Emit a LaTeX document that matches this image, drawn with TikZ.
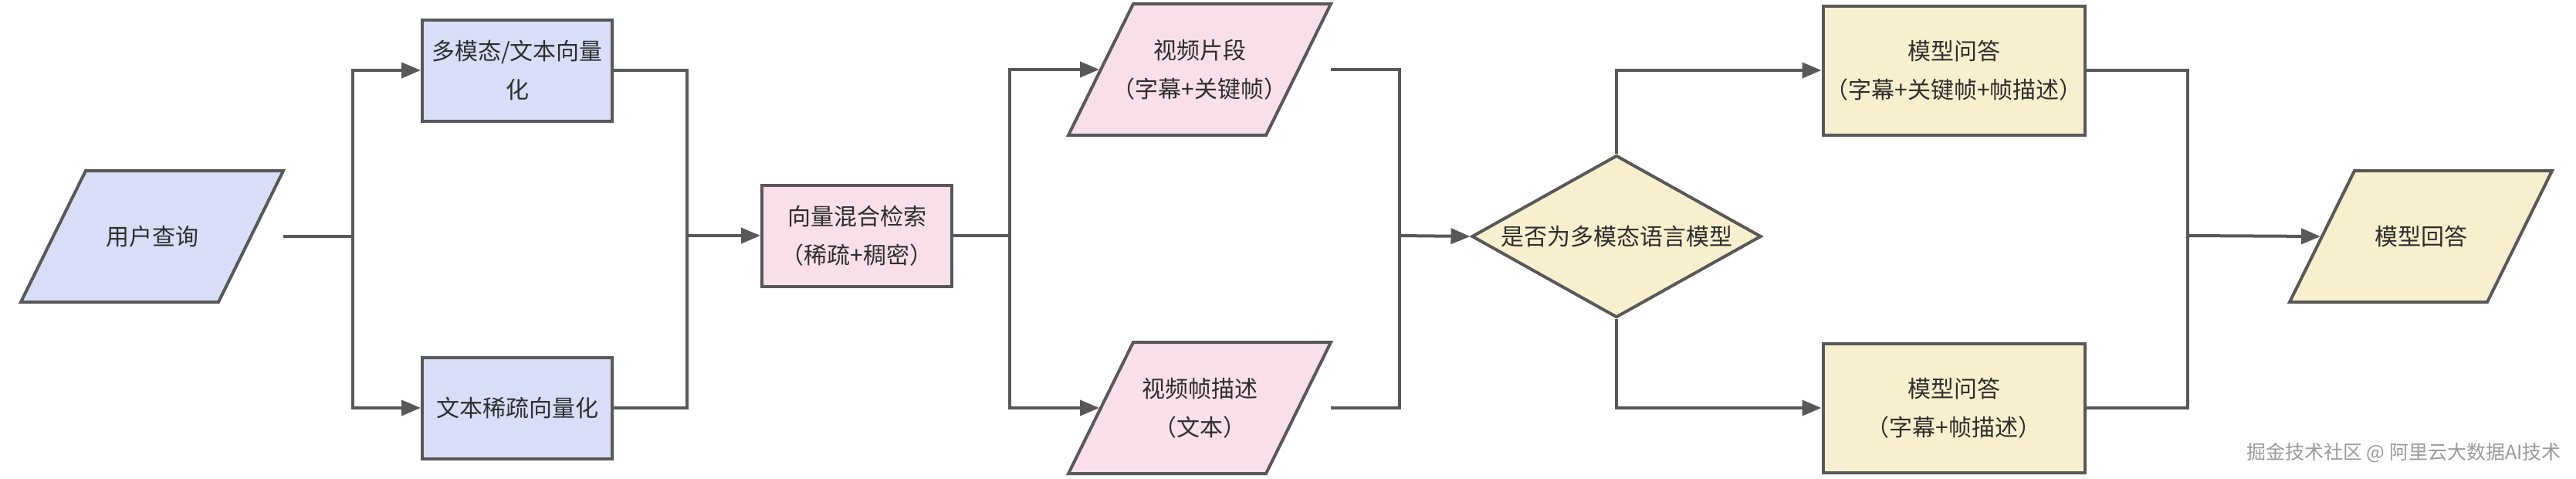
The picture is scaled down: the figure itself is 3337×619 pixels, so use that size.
\documentclass[tikz,border=0pt]{standalone}
\usepackage{fontspec}
\setmainfont{Noto Sans CJK SC}
\usetikzlibrary{shapes.geometric,arrows.meta,calc}
\definecolor{bluef}{HTML}{D9DEF8}
\definecolor{pinkf}{HTML}{F8DFEA}
\definecolor{yelf}{HTML}{F8EFCE}
\definecolor{strokec}{HTML}{585858}
\definecolor{textc}{HTML}{2E2E2E}
\definecolor{wmc}{HTML}{9A9A9A}
\pgfdeclarelayer{bg}
\pgfsetlayers{bg,main}
\begin{document}
\begin{tikzpicture}[x=1pt,y=-1pt,
  base/.style={draw=strokec, line width=4pt, text=textc,
    font=\fontsize{30}{50}\selectfont, align=center, inner sep=0pt},
  boxn/.style={base, rectangle, minimum width=246pt, minimum height=131pt},
  bigbox/.style={base, rectangle, minimum width=339pt, minimum height=167pt},
  para/.style={base, draw=none, rectangle, minimum width=336pt, minimum height=166pt},
  paraline/.style={draw=strokec, line width=4pt, line join=miter},
  decis/.style={base, diamond, aspect=1.77, minimum width=375pt, minimum height=210pt},
  conn/.style={draw=strokec, line width=4pt, line join=miter},
  arr/.style={conn, -{Triangle[length=25pt,width=20pt]}}]
\useasboundingbox (0,0) rectangle (3337,619);

% nodes
\node[para] (q) at (197,306) {用户查询};
\node[boxn, fill=bluef] (mm) at (670,91) {多模态/文本向量\\化};
\node[boxn, fill=bluef] (sp) at (670,528) {文本稀疏向量化};
\node[boxn, fill=pinkf] (hy) at (1110,305) {向量混合检索\\（稀疏+稠密）};
\node[para] (clip) at (1554,90) {视频片段\\（字幕+关键帧）};
\node[para] (fd) at (1554,528) {视频帧描述\\（文本）};
\node[decis, fill=yelf] (dec) at (2094,306) {是否为多模态语言模型};
\node[bigbox, fill=yelf] (qa1) at (2531,91) {模型问答\\（字幕+关键帧+帧描述）};
\node[bigbox, fill=yelf] (qa2) at (2531,528) {模型问答\\（字幕+帧描述）};
\node[para] (ans) at (3136,306) {模型回答};
\node[font=\fontsize{25}{25}\selectfont, text=wmc, inner sep=0pt] (wm) at (3114,586) {掘金技术社区 @ 阿里云大数据AI技术};

% background and parallelogram outlines (behind the texts)
\begin{pgfonlayer}{bg}
\fill[white] (0,0) rectangle (3337,619);
\foreach \n/\c in {q/bluef, clip/pinkf, fd/pinkf, ans/yelf}{
  \filldraw[paraline, fill=\c] ($(\n.north west)+(84,0)$) -- (\n.north east)
     -- ($(\n.south east)+(-84,0)$) -- (\n.south west) -- cycle;
}
\end{pgfonlayer}
\foreach \n in {q, clip, fd, ans}{
  \coordinate (\n-in) at ($(\n.west)+(40,0)$);
}

% junctions
\coordinate (j1) at (457,306);
\coordinate (j2) at (890,305);
\coordinate (j3) at (1308,305);
\coordinate (j4) at (1813,305);
\coordinate (j5) at (2834,305);

% connectors
\draw[conn] (q.east) -- (j1);
\draw[arr] (j1) |- (mm.west);
\draw[arr] (j1) |- (sp.west);

\draw[conn] (mm.east) -| (j2);
\draw[conn] (sp.east) -| (j2);
\draw[arr] (j2) -- (hy.west);

\draw[conn] (hy.east) -- (j3);
\draw[arr] (j3) |- (clip-in);
\draw[arr] (j3) |- (fd-in);

\draw[conn] (clip.east) -| (j4);
\draw[conn] (fd.east) -| (j4);
\draw[arr] (j4) -- (dec.west);

\draw[arr] (dec.north) |- (qa1.west);
\draw[arr] (dec.south) |- (qa2.west);

\draw[conn] (qa1.east) -| (j5);
\draw[conn] (qa2.east) -| (j5);
\draw[arr] (j5) -- (ans-in);
\end{tikzpicture}
\end{document}
